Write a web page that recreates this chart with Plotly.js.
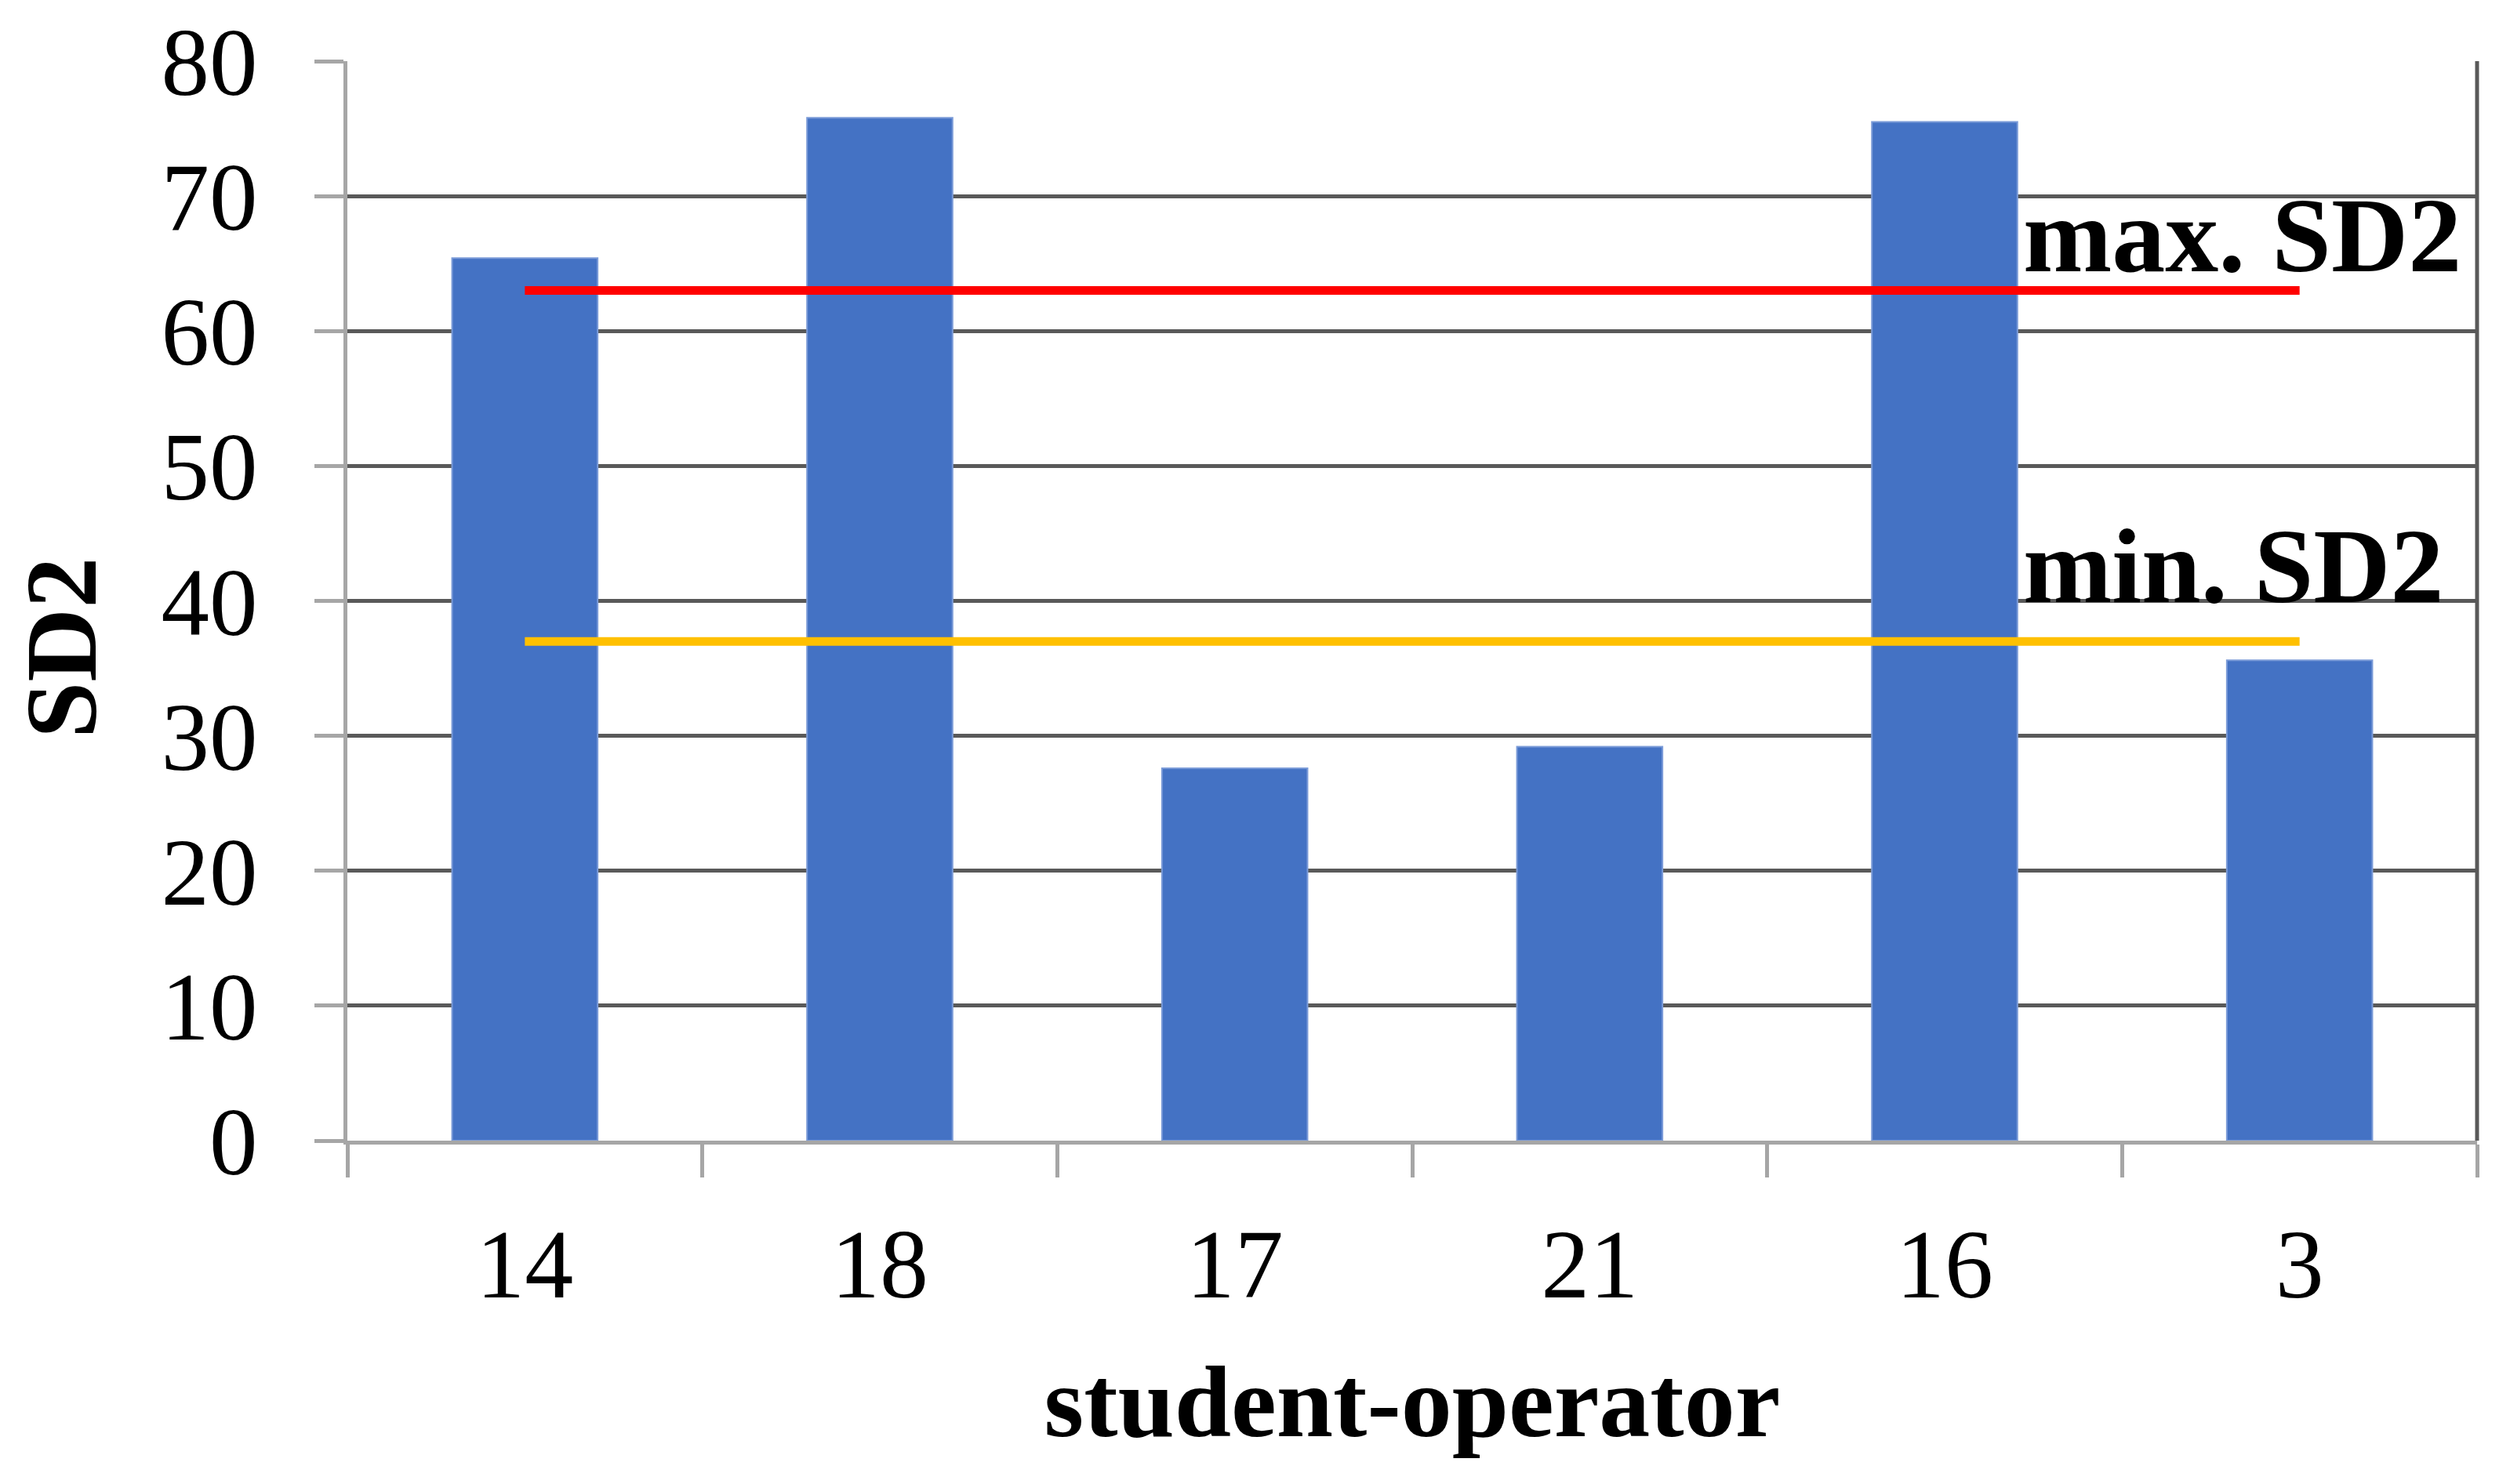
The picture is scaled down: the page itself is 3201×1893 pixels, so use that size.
<!DOCTYPE html>
<html>
<head>
<meta charset="utf-8">
<script src="https://cdn.plot.ly/plotly-3.0.1.min.js"></script>
<style>html,body{margin:0;padding:0;background:#fff;}</style>
</head>
<body>
<div id="chart" style="width:3201px;height:1893px;"></div>
<script>
const categories = ["14", "18", "17", "21", "16", "3"];
const sd2Values = [65.4, 75.8, 27.6, 29.2, 75.5, 35.6];
const maxSD2 = 63;
const minSD2 = 37;
const yTickValues = [0, 10, 20, 30, 40, 50, 60, 70, 80];
const maxLabel = "max. SD2";
const minLabel = "min. SD2";
const xTitle = "student-operator";
const yTitle = "SD2";

const serif = "Liberation Serif, Times New Roman, serif";
const lineX = [categories[0], categories[categories.length - 1]];

const traces = [
  {
    type: "bar",
    x: categories,
    y: sd2Values,
    marker: {color: "#4472C4", line: {color: "#7b9bd8", width: 2}},
    width: 0.41,
    hoverinfo: "x+y",
    showlegend: false
  },
  {
    type: "scatter",
    mode: "lines",
    x: lineX,
    y: [maxSD2, maxSD2],
    line: {color: "#FF0000", width: 11},
    showlegend: false
  },
  {
    type: "scatter",
    mode: "lines",
    x: lineX,
    y: [minSD2, minSD2],
    line: {color: "#FFC000", width: 11},
    showlegend: false
  }
];

const layout = {
  width: 3201,
  height: 1893,
  margin: {l: 443, r: 42, t: 78, b: 438},
  paper_bgcolor: "#ffffff",
  plot_bgcolor: "#ffffff",
  font: {family: serif, color: "#000000", size: 122},
  showlegend: false,
  xaxis: {
    type: "category",
    range: [-0.5, categories.length - 0.5],
    showline: true,
    linecolor: "#a6a6a6",
    linewidth: 5,
    ticks: "outside",
    tickson: "boundaries",
    ticklen: 42,
    tickwidth: 5,
    tickcolor: "#a6a6a6",
    showgrid: false,
    zeroline: false,
    tickfont: {family: serif, size: 124, color: "#000000"},
    ticklabelstandoff: 46,
    title: {text: xTitle, font: {family: serif, size: 130, color: "#000000", weight: "bold"}, standoff: 62}
  },
  yaxis: {
    range: [0, 80],
    tickvals: yTickValues,
    ticktext: yTickValues.map(String),
    showline: true,
    linecolor: "#a6a6a6",
    linewidth: 5,
    ticks: "outside",
    ticklen: 37,
    tickwidth: 5,
    tickcolor: "#a6a6a6",
    showgrid: true,
    gridcolor: "#595959",
    gridwidth: 5,
    zeroline: false,
    tickfont: {family: serif, size: 123, color: "#000000"},
    ticklabelstandoff: 48
  },
  shapes: [
    {type: "line", xref: "paper", yref: "paper", x0: 1, x1: 1, y0: 0, y1: 1, line: {color: "#595959", width: 5}}
  ],
  annotations: [
    {text: yTitle, xref: "paper", yref: "paper", x: -0.1344, y: 0.4568, xanchor: "center", yanchor: "middle",
     textangle: -90, showarrow: false,
     font: {family: serif, size: 130, color: "#000000", weight: "bold"}},
    {text: maxLabel, xref: "paper", yref: "y", x: 0.786, y: 67.1, xanchor: "left", yanchor: "middle", showarrow: false,
     font: {family: serif, size: 136, color: "#000000", weight: "bold"}},
    {text: minLabel, xref: "paper", yref: "y", x: 0.786, y: 42.6, xanchor: "left", yanchor: "middle", showarrow: false,
     font: {family: serif, size: 136, color: "#000000", weight: "bold"}}
  ]
};

Plotly.newPlot("chart", traces, layout, {displayModeBar: false, staticPlot: true});
</script>
</body>
</html>
